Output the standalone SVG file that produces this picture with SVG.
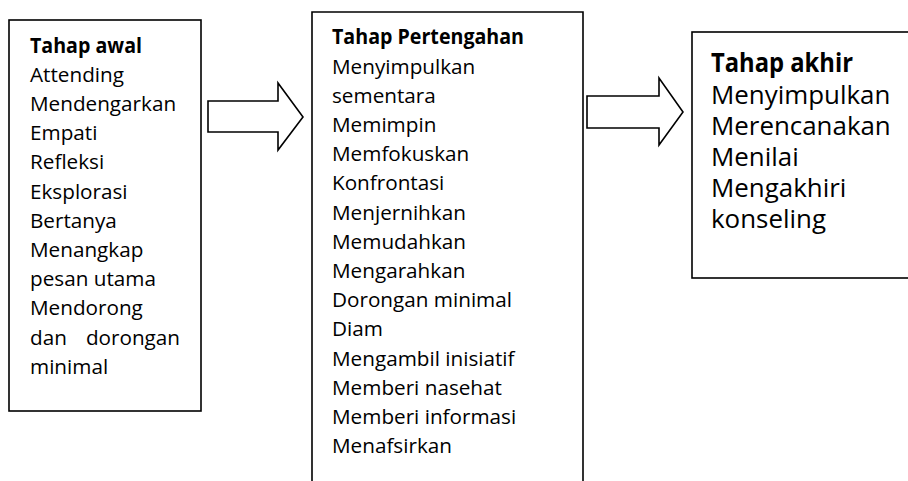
<svg xmlns="http://www.w3.org/2000/svg" width="908" height="481" viewBox="0 0 908 481">
<style>
.box{fill:#fff;stroke:#000;stroke-width:1.6}
.arrow{fill:#fff;stroke:#000;stroke-width:1.6;stroke-linejoin:miter}
.t{font-family:"Open Sans","Noto Sans","Liberation Sans",sans-serif;font-size:20.7px;fill:#000}
.t3{font-family:"Open Sans","Noto Sans","Liberation Sans",sans-serif;font-size:25.9px;fill:#000}
.b{font-weight:bold}
</style>
<rect width="908" height="481" fill="#fff"/>
<g id="connectors">
<polygon class="arrow" points="208,101 278,101 278,83 303,117 278,150 278,132 208,132"/>
<polygon class="arrow" points="587,96 659,96 659,78 683,112 659,145 659,128 587,128"/>
</g>
<g id="node-awal">
<rect class="box" x="9" y="20" width="192" height="391"/>
<text class="t b" x="30" y="52.5" textLength="112" lengthAdjust="spacingAndGlyphs">Tahap awal</text>
<text class="t" x="30" y="81.7">Attending</text>
<text class="t" x="30" y="110.9">Mendengarkan</text>
<text class="t" x="30" y="140.1">Empati</text>
<text class="t" x="30" y="169.3">Refleksi</text>
<text class="t" x="30" y="198.5">Eksplorasi</text>
<text class="t" x="30" y="227.7">Bertanya</text>
<text class="t" x="30" y="256.9">Menangkap</text>
<text class="t" x="30" y="286.1">pesan utama</text>
<text class="t" x="30" y="315.3">Mendorong</text>
<text class="t" x="30" y="344.5">dan</text>
<text class="t" x="180" y="344.5" text-anchor="end">dorongan</text>
<text class="t" x="30" y="373.7">minimal</text>
</g>
<g id="node-pertengahan">
<path class="box" d="M312,490 V12 H583 V490"/>
<text class="t b" x="332" y="44.3" textLength="192" lengthAdjust="spacingAndGlyphs">Tahap Pertengahan</text>
<text class="t" x="332" y="73.5">Menyimpulkan</text>
<text class="t" x="332" y="102.7">sementara</text>
<text class="t" x="332" y="131.9">Memimpin</text>
<text class="t" x="332" y="161.1">Memfokuskan</text>
<text class="t" x="332" y="190.3">Konfrontasi</text>
<text class="t" x="332" y="219.5">Menjernihkan</text>
<text class="t" x="332" y="248.7">Memudahkan</text>
<text class="t" x="332" y="277.9">Mengarahkan</text>
<text class="t" x="332" y="307.1">Dorongan minimal</text>
<text class="t" x="332" y="336.3">Diam</text>
<text class="t" x="332" y="365.5">Mengambil inisiatif</text>
<text class="t" x="332" y="394.7">Memberi nasehat</text>
<text class="t" x="332" y="423.9">Memberi informasi</text>
<text class="t" x="332" y="453.1">Menafsirkan</text>
</g>
<g id="node-akhir">
<rect class="box" x="692" y="32" width="230" height="246"/>
<text class="t3 b" x="711" y="72" textLength="142" lengthAdjust="spacingAndGlyphs">Tahap akhir</text>
<text class="t3" x="711" y="104">Menyimpulkan</text>
<text class="t3" x="711" y="135">Merencanakan</text>
<text class="t3" x="711" y="166">Menilai</text>
<text class="t3" x="711" y="197">Mengakhiri</text>
<text class="t3" x="711" y="228">konseling</text>
</g>
</svg>
